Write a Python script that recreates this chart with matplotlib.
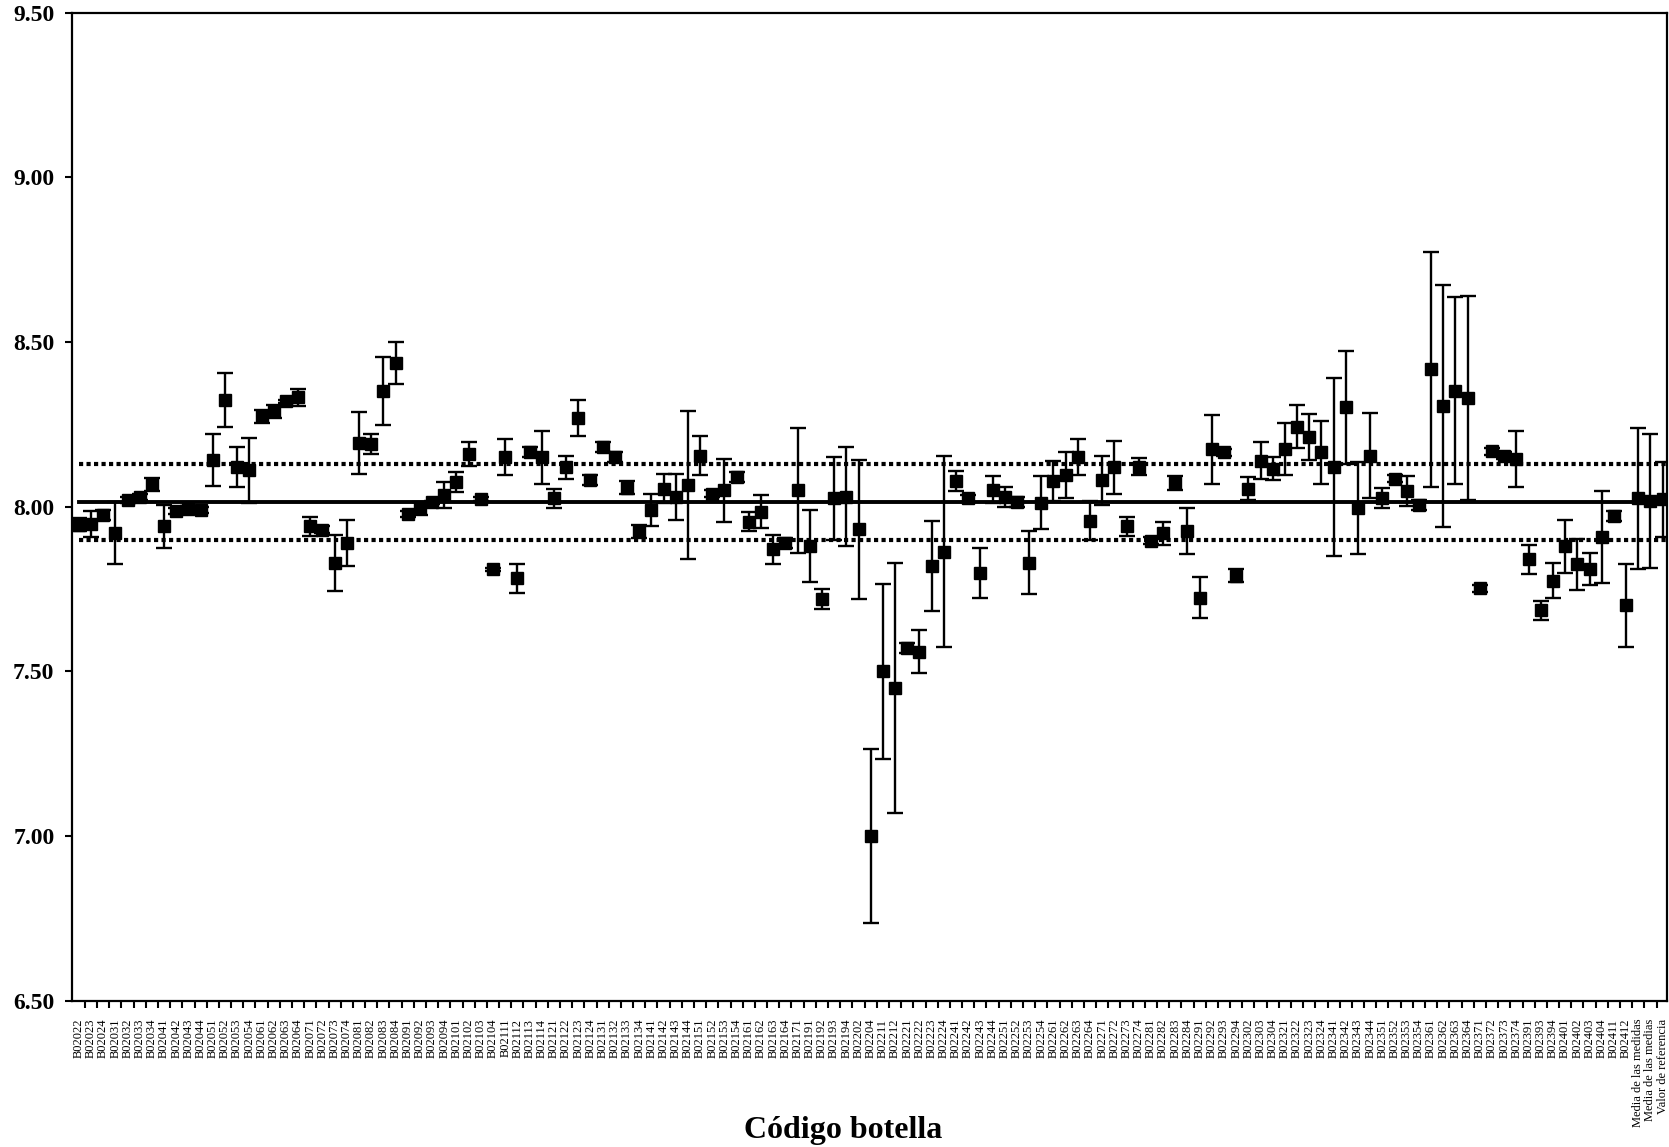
import numpy as np
import matplotlib
matplotlib.use("Agg")
import matplotlib.pyplot as plt
from matplotlib.ticker import FixedLocator, FormatStrFormatter

codigos = ["B02022", "B02023", "B02024", "B02031", "B02032", "B02033", "B02034", "B02041",
           "B02042", "B02043", "B02044", "B02051", "B02052", "B02053", "B02054", "B02061",
           "B02062", "B02063", "B02064", "B02071", "B02072", "B02073", "B02074", "B02081",
           "B02082", "B02083", "B02084", "B02091", "B02092", "B02093", "B02094", "B02101",
           "B02102", "B02103", "B02104", "B02111", "B02112", "B02113", "B02114", "B02121",
           "B02122", "B02123", "B02124", "B02131", "B02132", "B02133", "B02134", "B02141",
           "B02142", "B02143", "B02144", "B02151", "B02152", "B02153", "B02154", "B02161",
           "B02162", "B02163", "B02164", "B02171", "B02191", "B02192", "B02193", "B02194",
           "B02202", "B02204", "B02211", "B02212", "B02221", "B02222", "B02223", "B02224",
           "B02241", "B02242", "B02243", "B02244", "B02251", "B02252", "B02253", "B02254",
           "B02261", "B02262", "B02263", "B02264", "B02271", "B02272", "B02273", "B02274",
           "B02281", "B02282", "B02283", "B02284", "B02291", "B02292", "B02293", "B02294",
           "B02302", "B02303", "B02304", "B02321", "B02322", "B02323", "B02324", "B02341",
           "B02342", "B02343", "B02344", "B02351", "B02352", "B02353", "B02354", "B02361",
           "B02362", "B02363", "B02364", "B02371", "B02372", "B02373", "B02374", "B02391",
           "B02393", "B02394", "B02401", "B02402", "B02403", "B02404", "B02411", "B02412",
           "Media de las medidas", "Media de las medias", "Valor de referencia"]

valores = [7.945, 7.948, 7.975, 7.920, 8.020, 8.030, 8.068, 7.940, 7.987, 7.993, 7.990,
           8.142, 8.325, 8.120, 8.110, 8.275, 8.290, 8.320, 8.332, 7.940, 7.930, 7.830,
           7.890, 8.194, 8.190, 8.351, 8.437, 7.978, 7.995, 8.013, 8.035, 8.075, 8.160,
           8.023, 7.810, 8.150, 7.782, 8.165, 8.150, 8.025, 8.120, 8.270, 8.082, 8.180,
           8.152, 8.058, 7.925, 7.990, 8.055, 8.030, 8.065, 8.155, 8.040, 8.050, 8.090,
           7.955, 7.985, 7.870, 7.890, 8.050, 7.880, 7.720, 8.025, 8.030, 7.931, 7.000,
           7.500, 7.450, 7.570, 7.560, 7.821, 7.863, 8.078, 8.025, 7.798, 8.052, 8.030,
           8.015, 7.830, 8.012, 8.078, 8.097, 8.150, 7.958, 8.080, 8.120, 7.940, 8.122,
           7.897, 7.920, 8.072, 7.925, 7.724, 8.175, 8.165, 7.790, 8.055, 8.140, 8.115,
           8.175, 8.243, 8.213, 8.165, 8.120, 8.302, 7.995, 8.155, 8.026, 8.085, 8.048,
           8.006, 8.418, 8.305, 8.352, 8.330, 7.752, 8.168, 8.155, 8.145, 7.840, 7.685,
           7.775, 7.880, 7.825, 7.810, 7.907, 7.972, 7.700, 8.025, 8.018, 8.022]

errores = [0.020, 0.040, 0.015, 0.095, 0.008, 0.010, 0.020, 0.065, 0.010, 0.008, 0.010,
           0.080, 0.082, 0.060, 0.100, 0.020, 0.020, 0.005, 0.025, 0.030, 0.010, 0.085,
           0.070, 0.095, 0.030, 0.104, 0.063, 0.010, 0.020, 0.005, 0.040, 0.030, 0.035,
           0.005, 0.005, 0.055, 0.045, 0.015, 0.080, 0.030, 0.035, 0.055, 0.015, 0.015,
           0.015, 0.020, 0.020, 0.050, 0.045, 0.070, 0.225, 0.060, 0.010, 0.095, 0.015,
           0.030, 0.050, 0.045, 0.015, 0.190, 0.110, 0.030, 0.125, 0.150, 0.210, 0.265,
           0.265, 0.380, 0.015, 0.065, 0.137, 0.290, 0.030, 0.010, 0.076, 0.040, 0.030,
           0.015, 0.095, 0.080, 0.060, 0.070, 0.055, 0.060, 0.075, 0.080, 0.030, 0.025,
           0.010, 0.035, 0.020, 0.070, 0.063, 0.105, 0.010, 0.020, 0.035, 0.055, 0.035,
           0.080, 0.065, 0.070, 0.095, 0.270, 0.172, 0.140, 0.130, 0.030, 0.010, 0.045,
           0.015, 0.357, 0.367, 0.284, 0.310, 0.010, 0.010, 0.010, 0.085, 0.043, 0.030,
           0.053, 0.080, 0.078, 0.048, 0.140, 0.015, 0.125, 0.215, 0.204, 0.115]

valor_referencia = 8.015
incertidumbre = 0.115

serif = ["Liberation Serif", "DejaVu Serif"]

fig = plt.figure(figsize=(16.69, 11.47), dpi=100)
ax = fig.add_axes([0.0434, 0.1277, 0.9554, 0.8611])

x = np.arange(len(codigos))
ax.errorbar(x, valores, yerr=errores, fmt="s", color="black", ms=8.5,
            ecolor="black", elinewidth=1.7, capsize=6, capthick=1.7, zorder=3)

# linea del valor de referencia y su intervalo
xl = [0, len(codigos) + 2]
ax.plot(xl, [valor_referencia] * 2, color="black", lw=2.8, zorder=2)
for s in (1, -1):
    ax.plot(xl, [valor_referencia + s * incertidumbre] * 2, color="black",
            lw=3.0, linestyle=(0, (1.0, 0.8)), zorder=2)

ax.set_xlim(-0.52, len(codigos) - 1 + 0.36)
ax.set_ylim(6.5, 9.5)
ax.set_yticks(np.arange(6.5, 9.51, 0.5))
ax.yaxis.set_major_formatter(FormatStrFormatter("%.2f"))
for lab in ax.get_yticklabels():
    lab.set_fontfamily(serif)
    lab.set_fontweight("bold")
    lab.set_fontsize(17)
ax.tick_params(axis="y", direction="out", length=5, width=1.5, pad=8)

ax.set_xticks(x)
ax.set_xticklabels(codigos, rotation=90, fontsize=9, family=serif, va="top")
ax.tick_params(axis="x", which="major", length=0, pad=13)
ax.xaxis.set_minor_locator(FixedLocator(x[:-1] + 0.5))
ax.tick_params(axis="x", which="minor", direction="out", length=5, width=1.5)

for sp in ax.spines.values():
    sp.set_linewidth(1.6)
    sp.set_color("black")

fig.text(0.505, 0.008, "Código botella", ha="center", va="baseline",
         fontsize=23, fontweight="bold", family=serif)

fig.savefig("out.png", dpi=100)
